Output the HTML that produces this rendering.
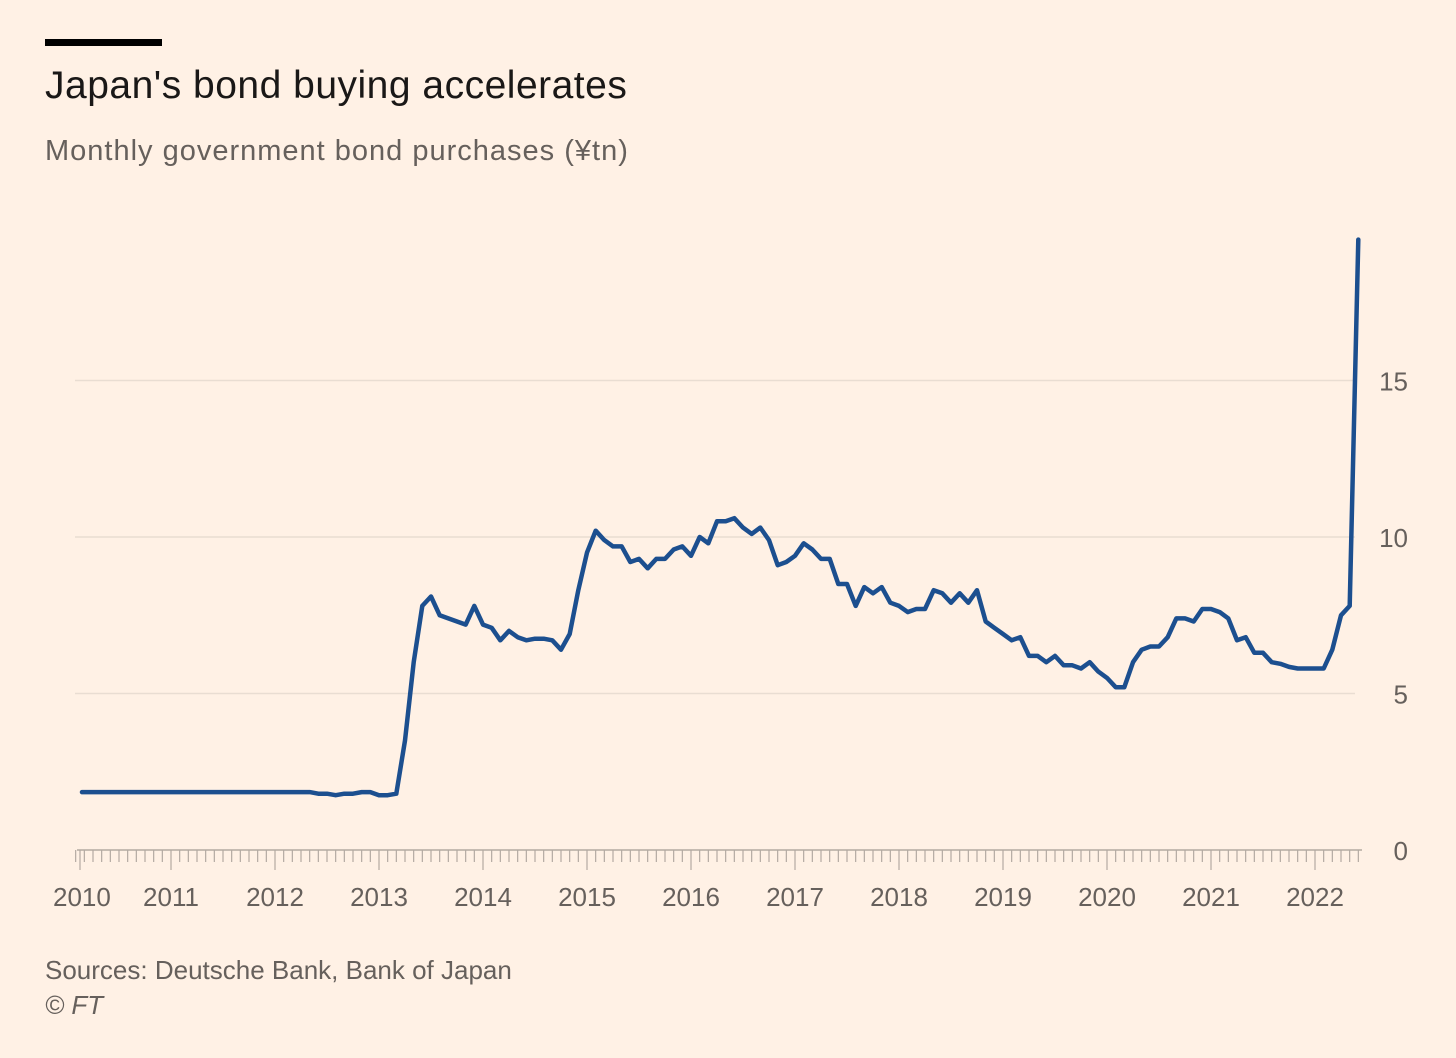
<!DOCTYPE html>
<html><head><meta charset="utf-8"><style>
html,body{margin:0;padding:0;background:#FFF1E5;}
body{width:1456px;height:1058px;position:relative;overflow:hidden;font-family:"Liberation Sans",sans-serif;}
.t{position:absolute;white-space:nowrap;}
</style></head><body>
<div style="position:absolute;left:45px;top:39px;width:117px;height:7px;background:#000"></div>
<div class="t" style="left:45px;top:64px;font-size:39px;letter-spacing:0.5px;color:#1a1817">Japan's bond buying accelerates</div>
<div class="t" style="left:45px;top:135px;font-size:29px;letter-spacing:1px;color:#66605c">Monthly government bond purchases (¥tn)</div>
<svg id="chart" width="1456" height="1058" style="position:absolute;left:0;top:0"></svg>
<div class="t" style="left:45px;top:955px;font-size:26px;color:#66605c">Sources: Deutsche Bank, Bank of Japan</div>
<div class="t" style="left:45px;top:990px;font-size:26px;color:#66605c;font-style:italic">© FT</div>
<script>
const years=[2010,2011,2012,2013,2014,2015,2016,2017,2018,2019,2020,2021,2022];
const yTicks=[0,5,10,15];
const startYear=2010, startMonth=1;
const v2010=[1.85,1.85,1.85,1.85,1.85,1.85,1.85,1.85,1.85,1.85,1.85];
const v2011=[1.85,1.85,1.85,1.85,1.85,1.85,1.85,1.85,1.85,1.85,1.85,1.85];
const v2012=[1.85,1.85,1.85,1.85,1.85,1.8,1.8,1.75,1.8,1.8,1.85,1.85];
const v2013=[1.75,1.75,1.8,3.5,6.0,7.8,8.1,7.5,7.4,7.3,7.2,7.8];
const v2014=[7.2,7.1,6.7,7.0,6.8,6.7,6.75,6.75,6.7,6.4,6.9,8.3];
const v2015=[9.5,10.2,9.9,9.7,9.7,9.2,9.3,9.0,9.3,9.3,9.6,9.7];
const v2016=[9.4,10.0,9.8,10.5,10.5,10.6,10.3,10.1,10.3,9.9,9.1,9.2];
const v2017=[9.4,9.8,9.6,9.3,9.3,8.5,8.5,7.8,8.4,8.2,8.4,7.9];
const v2018=[7.8,7.6,7.7,7.7,8.3,8.2,7.9,8.2,7.9,8.3,7.3,7.1];
const v2019=[6.9,6.7,6.8,6.2,6.2,6.0,6.2,5.9,5.9,5.8,6.0,5.7];
const v2020=[5.5,5.2,5.2,6.0,6.4,6.5,6.5,6.8,7.4,7.4,7.3,7.7];
const v2021=[7.7,7.6,7.4,6.7,6.8,6.3,6.3,6.0,5.95,5.85,5.8,5.8];
const v2022=[5.8,5.8,6.4,7.5,7.8,19.5];
const values=[].concat(v2010,v2011,v2012,v2013,v2014,v2015,v2016,v2017,v2018,v2019,v2020,v2021,v2022);

const NS="http://www.w3.org/2000/svg";
const svg=document.getElementById('chart');
const X=t=>67+(t-2010)*104;
const Y=v=>850-v*31.3;
const xL=80, xR=1362;
function mk(tag,attrs){const e=document.createElementNS(NS,tag);for(const k in attrs)e.setAttribute(k,attrs[k]);svg.appendChild(e);return e;}

yTicks.forEach(v=>{
  if(v>0){const g=mk('line',{x1:75,x2:1355,y1:Y(v),y2:Y(v),stroke:'#e9ddd2','stroke-width':1.5});
  
  }
  const t=mk('text',{x:1408,y:Y(v)+10,'text-anchor':'end','font-size':26,fill:'#66605c','font-family':'Liberation Sans, sans-serif'});
  t.textContent=v;
  
  
});
const base=mk('line',{x1:xL-3,x2:xR,y1:850,y2:850,stroke:'#b3aaa2','stroke-width':1.5});


for(let i=0;;i++){
  const t=startYear+(startMonth+i)/12;
  const x=X(t); if(x>xR+1)break;
  const major=((startMonth+i)%12)===0;
  const tk=mk('line',{x1:x,x2:x,y1:850,y2:major?870:862,stroke:'#b3aaa2','stroke-width':1.2});
  
  
}
const tk0=mk('line',{x1:xL,x2:xL,y1:850,y2:870,stroke:'#b3aaa2','stroke-width':1.2});


years.forEach(yr=>{
  let x=X(yr); let anchor='middle';
  if(yr===2010){x=53;anchor='start';}
  const t=mk('text',{x:x,y:906,'text-anchor':anchor,'font-size':26,fill:'#66605c','font-family':'Liberation Sans, sans-serif'});
  t.textContent=yr;
  
  
});
const pts=values.map((v,i)=>Math.max(X(startYear+(startMonth+i)/12),82).toFixed(1)+','+Y(v).toFixed(1));
const line=mk('polyline',{points:pts.join(' '),fill:'none',stroke:'#1c4f8f','stroke-width':4.5,'stroke-linejoin':'round','stroke-linecap':'round'});


</script>
</body></html>
